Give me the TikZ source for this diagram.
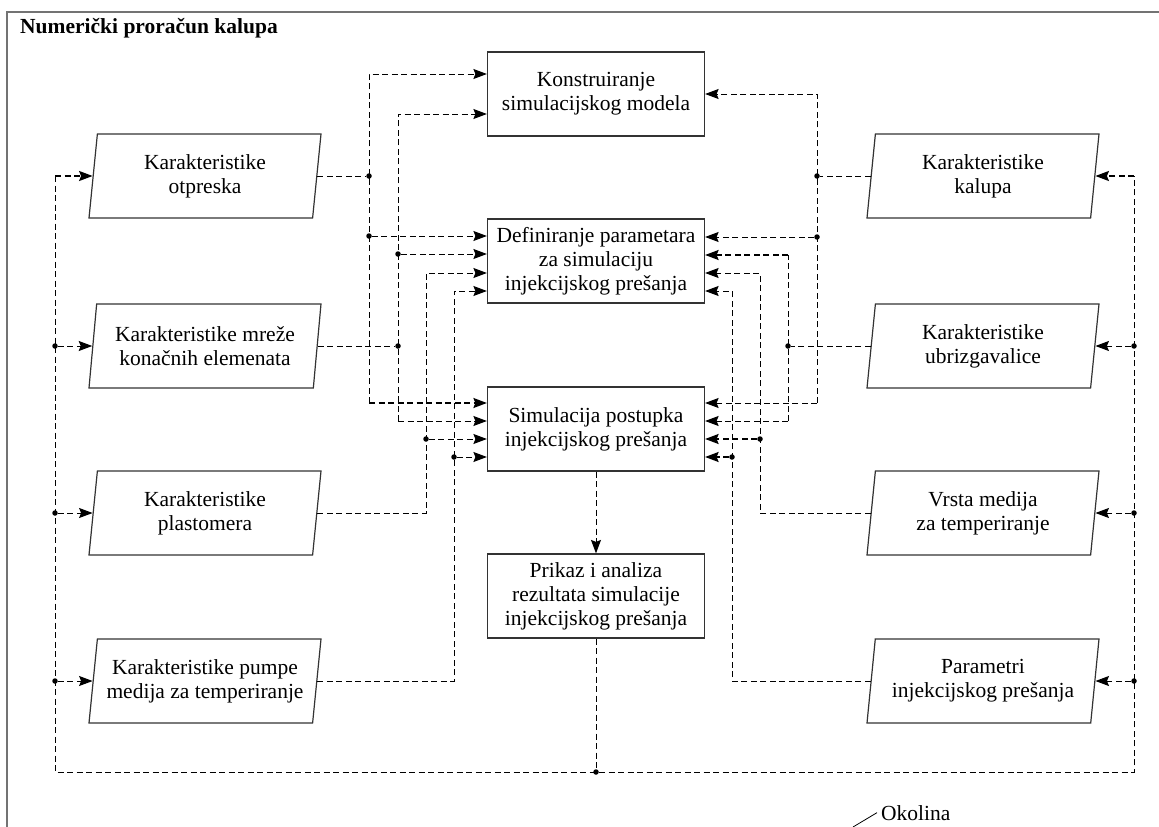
\documentclass[tikz,border=0pt]{standalone}
\usepackage{fontspec}
\setmainfont{Liberation Serif}
\usetikzlibrary{shapes.geometric,arrows.meta}

\tikzset{
  point/.style={
    circle,
    fill,
    inner sep=0pt,
    minimum size=5.5bp
  },
  flow/.style={
    line width=1bp,
    dash pattern=on 6bp off 3.5bp
  },
  thickflow/.style={
    flow,
    line width=1.6bp
  },
  flowtip/.style={
    -{Stealth[length=13.5bp,width=10bp,inset=2bp]}
  },
  box/.style={
    draw=black!80,
    line width=1.2bp,
    rectangle,
    minimum width=217bp,
    minimum height=84bp,
    align=center
  },
  data/.style={
    draw=black!80,
    line width=1.2bp,
    trapezium,
    trapezium left angle=80.5,
    trapezium right angle=99.5,
    trapezium stretches body,
    minimum width=232bp,
    minimum height=84bp,
    inner xsep=2bp,
    align=center
  }
}

\begin{document}
\begin{tikzpicture}[x=1bp, y=-1bp, font=\fontsize{21.5bp}{24bp}\selectfont]
  \useasboundingbox (0,0) rectangle (1159,827);
  \draw[black!55, line width=1.5bp] (7,827) -- (7,12) -- (1159,12);
  \node[anchor=base west, inner sep=0pt, font=\fontsize{21.5bp}{24bp}\selectfont\bfseries]
    (title) at (20,33) {Numerički proračun kalupa};

  % process steps
  \node[box] (kon) at (596,94) {Konstruiranje\\simulacijskog modela};
  \node[box] (def) at (596,261) {Definiranje parametara\\za simulaciju\\injekcijskog prešanja};
  \node[box] (sim) at (596,429) {Simulacija postupka\\injekcijskog prešanja};
  \node[box] (pri) at (596,596) {Prikaz i analiza\\rezultata simulacije\\injekcijskog prešanja};

  % input data
  \node[data] (otp) at (205,176) {Karakteristike\\otpreska};
  \node[data] (mre) at (205,346) {Karakteristike mreže\\konačnih elemenata};
  \node[data] (pla) at (205,513) {Karakteristike\\plastomera};
  \node[data] (pum) at (205,681) {Karakteristike pumpe\\medija za temperiranje};
  \node[data] (kal) at (983,176) {Karakteristike\\kalupa};
  \node[data] (ubr) at (983,346) {Karakteristike\\ubrizgavalice};
  \node[data] (vrs) at (983,513) {Vrsta medija\\za temperiranje};
  \node[data] (par) at (983,681) {Parametri\\injekcijskog prešanja};

  % left inputs
  \coordinate (o1) at (369,74);
  \node[point] (o2) at (369,176) {};
  \node[point] (o3) at (369,236) {};
  \coordinate (o4) at (369,403);
  \draw[flow] (otp.right side) -- (o2);
  \draw[flow,flowtip] (o4) -- (o1) -- (o1 -| kon.west);
  \draw[flow,flowtip] (o3) -- (o3 -| def.west);
  \draw[thickflow,flowtip] (o4) -- (o4 -| sim.west);

  \coordinate (m1) at (398,114);
  \node[point] (m2) at (398,254) {};
  \node[point] (m3) at (398,346) {};
  \coordinate (m4) at (398,421);
  \draw[flow] (mre.right side) -- (m3);
  \draw[flow,flowtip] (m4) -- (m1) -- (m1 -| kon.west);
  \draw[flow,flowtip] (m2) -- (m2 -| def.west);
  \draw[flow,flowtip] (m4) -- (m4 -| sim.west);

  \coordinate (p1) at (426,273);
  \node[point] (p2) at (426,439) {};
  \draw[flow,flowtip] (pla.right side) -| (p1) -- (p1 -| def.west);
  \draw[flow,flowtip] (p2) -- (p2 -| sim.west);

  \coordinate (q1) at (454,291);
  \node[point] (q2) at (454,457) {};
  \draw[flow,flowtip] (pum.right side) -| (q1) -- (q1 -| def.west);
  \draw[flow,flowtip] (q2) -- (q2 -| sim.west);

  % right inputs
  \coordinate (k1) at (817,94);
  \node[point] (k2) at (817,176) {};
  \node[point] (k3) at (817,237) {};
  \coordinate (k4) at (817,403);
  \draw[flow] (kal.left side) -- (k2);
  \draw[flow,flowtip] (k4) -- (k1) -- (k1 -| kon.east);
  \draw[flow,flowtip] (k3) -- (k3 -| def.east);
  \draw[flow,flowtip] (k4) -- (k4 -| sim.east);

  \coordinate (u1) at (788,255);
  \node[point] (u2) at (788,346) {};
  \coordinate (u3) at (788,421);
  \draw[flow] (ubr.left side) -- (u2);
  \draw[flow] (u3) -- (u1);
  \draw[thickflow,flowtip] (u1) -- (u1 -| def.east);
  \draw[flow,flowtip] (u3) -- (u3 -| sim.east);

  \coordinate (v1) at (760,273);
  \node[point] (v2) at (760,439) {};
  \draw[flow,flowtip] (vrs.left side) -| (v1) -- (v1 -| def.east);
  \draw[thickflow,flowtip] (v2) -- (v2 -| sim.east);

  \coordinate (r1) at (732,291);
  \node[point] (r2) at (732,457) {};
  \draw[flow,flowtip] (par.left side) -| (r1) -- (r1 -| def.east);
  \draw[thickflow,flowtip] (r2) -- (r2 -| sim.east);

  % results and feedback loop
  \draw[flow,flowtip] (sim) -- (pri);
  \node[point] (mid) at (596,772) {};
  \draw[flow] (pri) -- (mid);

  \coordinate (lb1) at (55,176);
  \node[point] (lb2) at (55,346) {};
  \node[point] (lb3) at (55,513) {};
  \node[point] (lb4) at (55,681) {};
  \coordinate (lb5) at (55,772);
  \coordinate (rb1) at (1134,176);
  \node[point] (rb2) at (1134,346) {};
  \node[point] (rb3) at (1134,513) {};
  \node[point] (rb4) at (1134,681) {};
  \coordinate (rb5) at (1134,772);
  \draw[flow] (lb1) -- (lb5) -- (rb5) -- (rb1);
  \draw[thickflow,flowtip] (lb1) -- (otp.left side);
  \draw[flow,flowtip] (lb2) -- (mre.left side);
  \draw[flow,flowtip] (lb3) -- (pla.left side);
  \draw[flow,flowtip] (lb4) -- (pum.left side);
  \draw[thickflow,flowtip] (rb1) -- (kal.right side);
  \draw[flow,flowtip] (rb2) -- (ubr.right side);
  \draw[flow,flowtip] (rb3) -- (vrs.right side);
  \draw[flow,flowtip] (rb4) -- (par.right side);

  % environment label
  \node[anchor=base west, inner sep=0pt] (env) at (881,820) {Okolina};
  \coordinate (lead) at (853,827);
  \draw[line width=0.8bp] (lead) -- ([xshift=-4bp]env.west);
\end{tikzpicture}
\end{document}
